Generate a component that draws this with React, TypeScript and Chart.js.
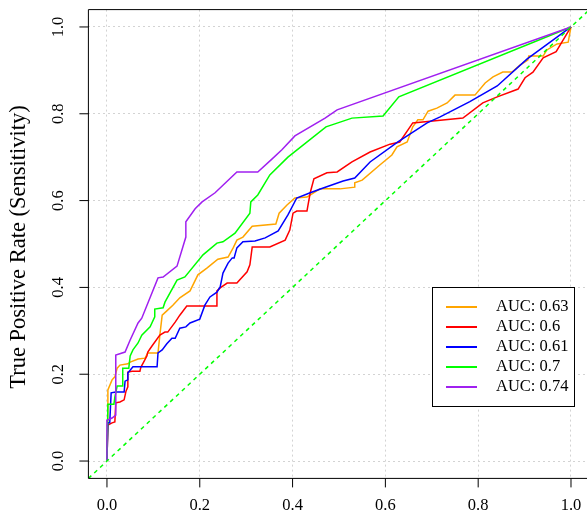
import React, { useEffect, useRef } from "react";
import { Chart, registerables } from "chart.js";

Chart.register(...registerables);

const legendLabels = ["AUC: 0.63", "AUC: 0.6", "AUC: 0.61", "AUC: 0.7", "AUC: 0.74"];
const seriesColors = ["#FFA500", "#FF0000", "#0000FF", "#00FF00", "#A020F0"];
const tickValues = [0, 0.2, 0.4, 0.6, 0.8, 1.0];
const tickLabels = ["0.0", "0.2", "0.4", "0.6", "0.8", "1.0"];
const yTitle = "True Positive Rate (Sensitivity)";

const orangeFpr = [0, 0.002, 0.002, 0.011, 0.017, 0.022, 0.028, 0.045, 0.05, 0.067, 0.082, 0.088, 0.11, 0.114, 0.119, 0.129, 0.142, 0.157, 0.179, 0.196, 0.216, 0.239, 0.261, 0.272, 0.28, 0.293, 0.313, 0.364, 0.371, 0.388, 0.405, 0.431, 0.459, 0.502, 0.534, 0.534, 0.55, 0.588, 0.614, 0.625, 0.647, 0.659, 0.67, 0.681, 0.692, 0.711, 0.733, 0.75, 0.793, 0.815, 0.832, 0.853, 0.873, 0.89, 0.907, 0.909, 0.94, 0.948, 0.97, 0.994, 1];
const orangeTpr = [0, 0.124, 0.164, 0.187, 0.194, 0.214, 0.221, 0.224, 0.228, 0.235, 0.237, 0.249, 0.249, 0.29, 0.336, 0.346, 0.359, 0.376, 0.392, 0.429, 0.445, 0.465, 0.47, 0.491, 0.509, 0.516, 0.541, 0.546, 0.571, 0.59, 0.606, 0.608, 0.627, 0.627, 0.631, 0.641, 0.647, 0.682, 0.705, 0.724, 0.735, 0.77, 0.786, 0.786, 0.806, 0.813, 0.825, 0.843, 0.843, 0.871, 0.885, 0.896, 0.896, 0.912, 0.924, 0.933, 0.933, 0.947, 0.961, 0.965, 1];

const redFpr = [0, 0.002, 0.011, 0.017, 0.019, 0.028, 0.037, 0.041, 0.045, 0.045, 0.054, 0.071, 0.073, 0.086, 0.088, 0.097, 0.114, 0.125, 0.131, 0.147, 0.157, 0.172, 0.235, 0.237, 0.244, 0.259, 0.28, 0.302, 0.308, 0.313, 0.351, 0.384, 0.394, 0.401, 0.409, 0.431, 0.438, 0.446, 0.474, 0.496, 0.528, 0.567, 0.61, 0.631, 0.659, 0.767, 0.81, 0.841, 0.886, 0.901, 0.918, 0.94, 0.968, 1];
const redTpr = [0, 0.083, 0.088, 0.09, 0.134, 0.136, 0.141, 0.161, 0.171, 0.205, 0.207, 0.207, 0.216, 0.242, 0.251, 0.265, 0.29, 0.297, 0.297, 0.32, 0.336, 0.357, 0.357, 0.392, 0.399, 0.41, 0.41, 0.436, 0.452, 0.493, 0.493, 0.509, 0.532, 0.571, 0.576, 0.576, 0.618, 0.65, 0.664, 0.666, 0.689, 0.712, 0.73, 0.735, 0.779, 0.79, 0.825, 0.839, 0.857, 0.883, 0.896, 0.929, 0.943, 1];

const blueFpr = [0, 0.002, 0.006, 0.009, 0.019, 0.037, 0.039, 0.045, 0.045, 0.056, 0.108, 0.11, 0.119, 0.129, 0.14, 0.147, 0.157, 0.17, 0.179, 0.2, 0.211, 0.222, 0.237, 0.244, 0.25, 0.261, 0.27, 0.274, 0.28, 0.293, 0.319, 0.341, 0.369, 0.39, 0.409, 0.438, 0.466, 0.509, 0.534, 0.567, 0.627, 0.69, 0.718, 0.782, 0.841, 0.905, 1];
const blueTpr = [0, 0.088, 0.088, 0.157, 0.159, 0.159, 0.184, 0.187, 0.203, 0.217, 0.217, 0.249, 0.256, 0.27, 0.283, 0.283, 0.306, 0.309, 0.318, 0.327, 0.359, 0.378, 0.389, 0.401, 0.433, 0.456, 0.468, 0.468, 0.491, 0.505, 0.507, 0.514, 0.53, 0.567, 0.606, 0.618, 0.629, 0.645, 0.652, 0.689, 0.735, 0.779, 0.793, 0.828, 0.864, 0.926, 1];

const greenFpr = [0, 0.002, 0.015, 0.017, 0.022, 0.034, 0.034, 0.047, 0.05, 0.056, 0.067, 0.075, 0.093, 0.103, 0.103, 0.121, 0.125, 0.151, 0.168, 0.207, 0.237, 0.25, 0.276, 0.308, 0.31, 0.325, 0.351, 0.39, 0.472, 0.528, 0.595, 0.629, 1];
const greenTpr = [0, 0.131, 0.131, 0.147, 0.173, 0.173, 0.214, 0.214, 0.242, 0.256, 0.272, 0.29, 0.309, 0.332, 0.35, 0.353, 0.366, 0.417, 0.424, 0.475, 0.502, 0.505, 0.525, 0.571, 0.597, 0.613, 0.659, 0.7, 0.77, 0.79, 0.795, 0.839, 1];

const purpleFpr = [0, 0, 0.011, 0.019, 0.019, 0.039, 0.05, 0.067, 0.075, 0.11, 0.121, 0.151, 0.17, 0.17, 0.19, 0.205, 0.233, 0.28, 0.325, 0.356, 0.377, 0.405, 0.47, 0.496, 1];
const purpleTpr = [0, 0.094, 0.099, 0.106, 0.244, 0.251, 0.279, 0.318, 0.329, 0.422, 0.424, 0.449, 0.516, 0.551, 0.581, 0.597, 0.618, 0.666, 0.666, 0.696, 0.717, 0.749, 0.79, 0.809, 1];

const diagonal = [-0.04, 1.04];

const seriesFpr = [orangeFpr, redFpr, blueFpr, greenFpr, purpleFpr];
const seriesTpr = [orangeTpr, redTpr, blueTpr, greenTpr, purpleTpr];

const FONT = '"Liberation Serif", "Times New Roman", serif';

const rPlotPlugin = {
  id: "rPlot",
  afterDraw(chart: any) {
    const { ctx, chartArea, scales } = chart;
    const { left, top, right, bottom } = chartArea;
    const x = scales.x;
    const y = scales.y;
    ctx.save();
    ctx.strokeStyle = "#000";
    ctx.lineWidth = 1;
    ctx.beginPath();
    ctx.moveTo(right + 2, top);
    ctx.lineTo(left, top);
    ctx.lineTo(left, bottom);
    ctx.lineTo(right + 2, bottom);
    ctx.stroke();

    ctx.fillStyle = "#000";
    ctx.font = `16.5px ${FONT}`;
    // x ticks
    tickValues.forEach((v, i) => {
      const px = x.getPixelForValue(v);
      ctx.beginPath();
      ctx.moveTo(px, bottom);
      ctx.lineTo(px, bottom + 9);
      ctx.stroke();
      ctx.textAlign = "center";
      ctx.textBaseline = "middle";
      ctx.fillText(tickLabels[i], px, bottom + 27);
    });
    // y ticks
    tickValues.forEach((v, i) => {
      const py = y.getPixelForValue(v);
      ctx.beginPath();
      ctx.moveTo(left, py);
      ctx.lineTo(left - 9, py);
      ctx.stroke();
      ctx.save();
      ctx.translate(left - 30, py);
      ctx.rotate(-Math.PI / 2);
      ctx.textAlign = "center";
      ctx.textBaseline = "middle";
      ctx.fillText(tickLabels[i], 0, 0);
      ctx.restore();
    });
    // y title
    ctx.save();
    ctx.font = `22.5px ${FONT}`;
    ctx.translate(19, (top + bottom) / 2 + 3);
    ctx.rotate(-Math.PI / 2);
    ctx.textAlign = "center";
    ctx.textBaseline = "middle";
    ctx.fillText(yTitle, 0, 0);
    ctx.restore();

    // legend
    const bx = 432, by = 287, bw = 142, bh = 119;
    ctx.fillStyle = "#fff";
    ctx.fillRect(bx, by, bw, bh);
    ctx.strokeStyle = "#000";
    ctx.lineWidth = 1;
    ctx.strokeRect(bx + 0.5, by + 0.5, bw, bh);
    ctx.font = `16.5px ${FONT}`;
    ctx.textAlign = "left";
    ctx.textBaseline = "middle";
    legendLabels.forEach((lab, i) => {
      const ry = by + 20 + i * 20;
      ctx.strokeStyle = seriesColors[i];
      ctx.lineWidth = 2;
      ctx.beginPath();
      ctx.moveTo(bx + 14, ry);
      ctx.lineTo(bx + 45, ry);
      ctx.stroke();
      ctx.fillStyle = "#000";
      ctx.fillText(lab, bx + 64, ry);
    });
    ctx.restore();
  },
};

export default function App() {
  const ref = useRef<HTMLCanvasElement | null>(null);
  useEffect(() => {
    document.body.style.margin = "0";
    const canvas = ref.current;
    if (!canvas) return;
    const curveSets = seriesFpr.map((fpr, i) => ({
      label: legendLabels[i],
      data: fpr.map((v, j) => ({ x: v, y: seriesTpr[i][j] })),
      borderColor: seriesColors[i],
      backgroundColor: seriesColors[i],
      borderWidth: 1.5,
      pointRadius: 0,
      fill: false,
      tension: 0,
    }));
    const datasets: any[] = [
      {
        label: "diag",
        data: diagonal.map((v) => ({ x: v, y: v })),
        borderColor: "#00FF00",
        borderWidth: 1.5,
        borderDash: [4, 4],
        pointRadius: 0,
        fill: false,
      },
      ...curveSets.reverse(),
    ];
    const tickBuild = (scale: any) => {
      scale.ticks = tickValues.map((v) => ({ value: v }));
    };
    const chart = new Chart(canvas, {
      type: "line",
      data: { datasets },
      options: {
        animation: false,
        responsive: false,
        devicePixelRatio: 1,
        layout: { padding: { left: 88.4, top: 9.6, right: 0, bottom: 36.6 } },
        plugins: { legend: { display: false }, tooltip: { enabled: false } },
        scales: {
          x: {
            type: "linear",
            min: -0.04,
            max: 1.0345,
            afterBuildTicks: tickBuild,
            ticks: { display: false },
            border: { display: false, dash: [2, 3] },
            grid: { color: "#d3d3d3", lineWidth: 1, drawTicks: false },
          },
          y: {
            type: "linear",
            min: -0.04,
            max: 1.04,
            afterBuildTicks: tickBuild,
            ticks: { display: false },
            border: { display: false, dash: [2, 3] },
            grid: { color: "#d3d3d3", lineWidth: 1, drawTicks: false },
          },
        },
      },
      plugins: [rPlotPlugin],
    });
    return () => chart.destroy();
  }, []);
  return (
    <div style={{ width: 587, height: 515 }}>
      <canvas ref={ref} width={587} height={515} />
    </div>
  );
}
